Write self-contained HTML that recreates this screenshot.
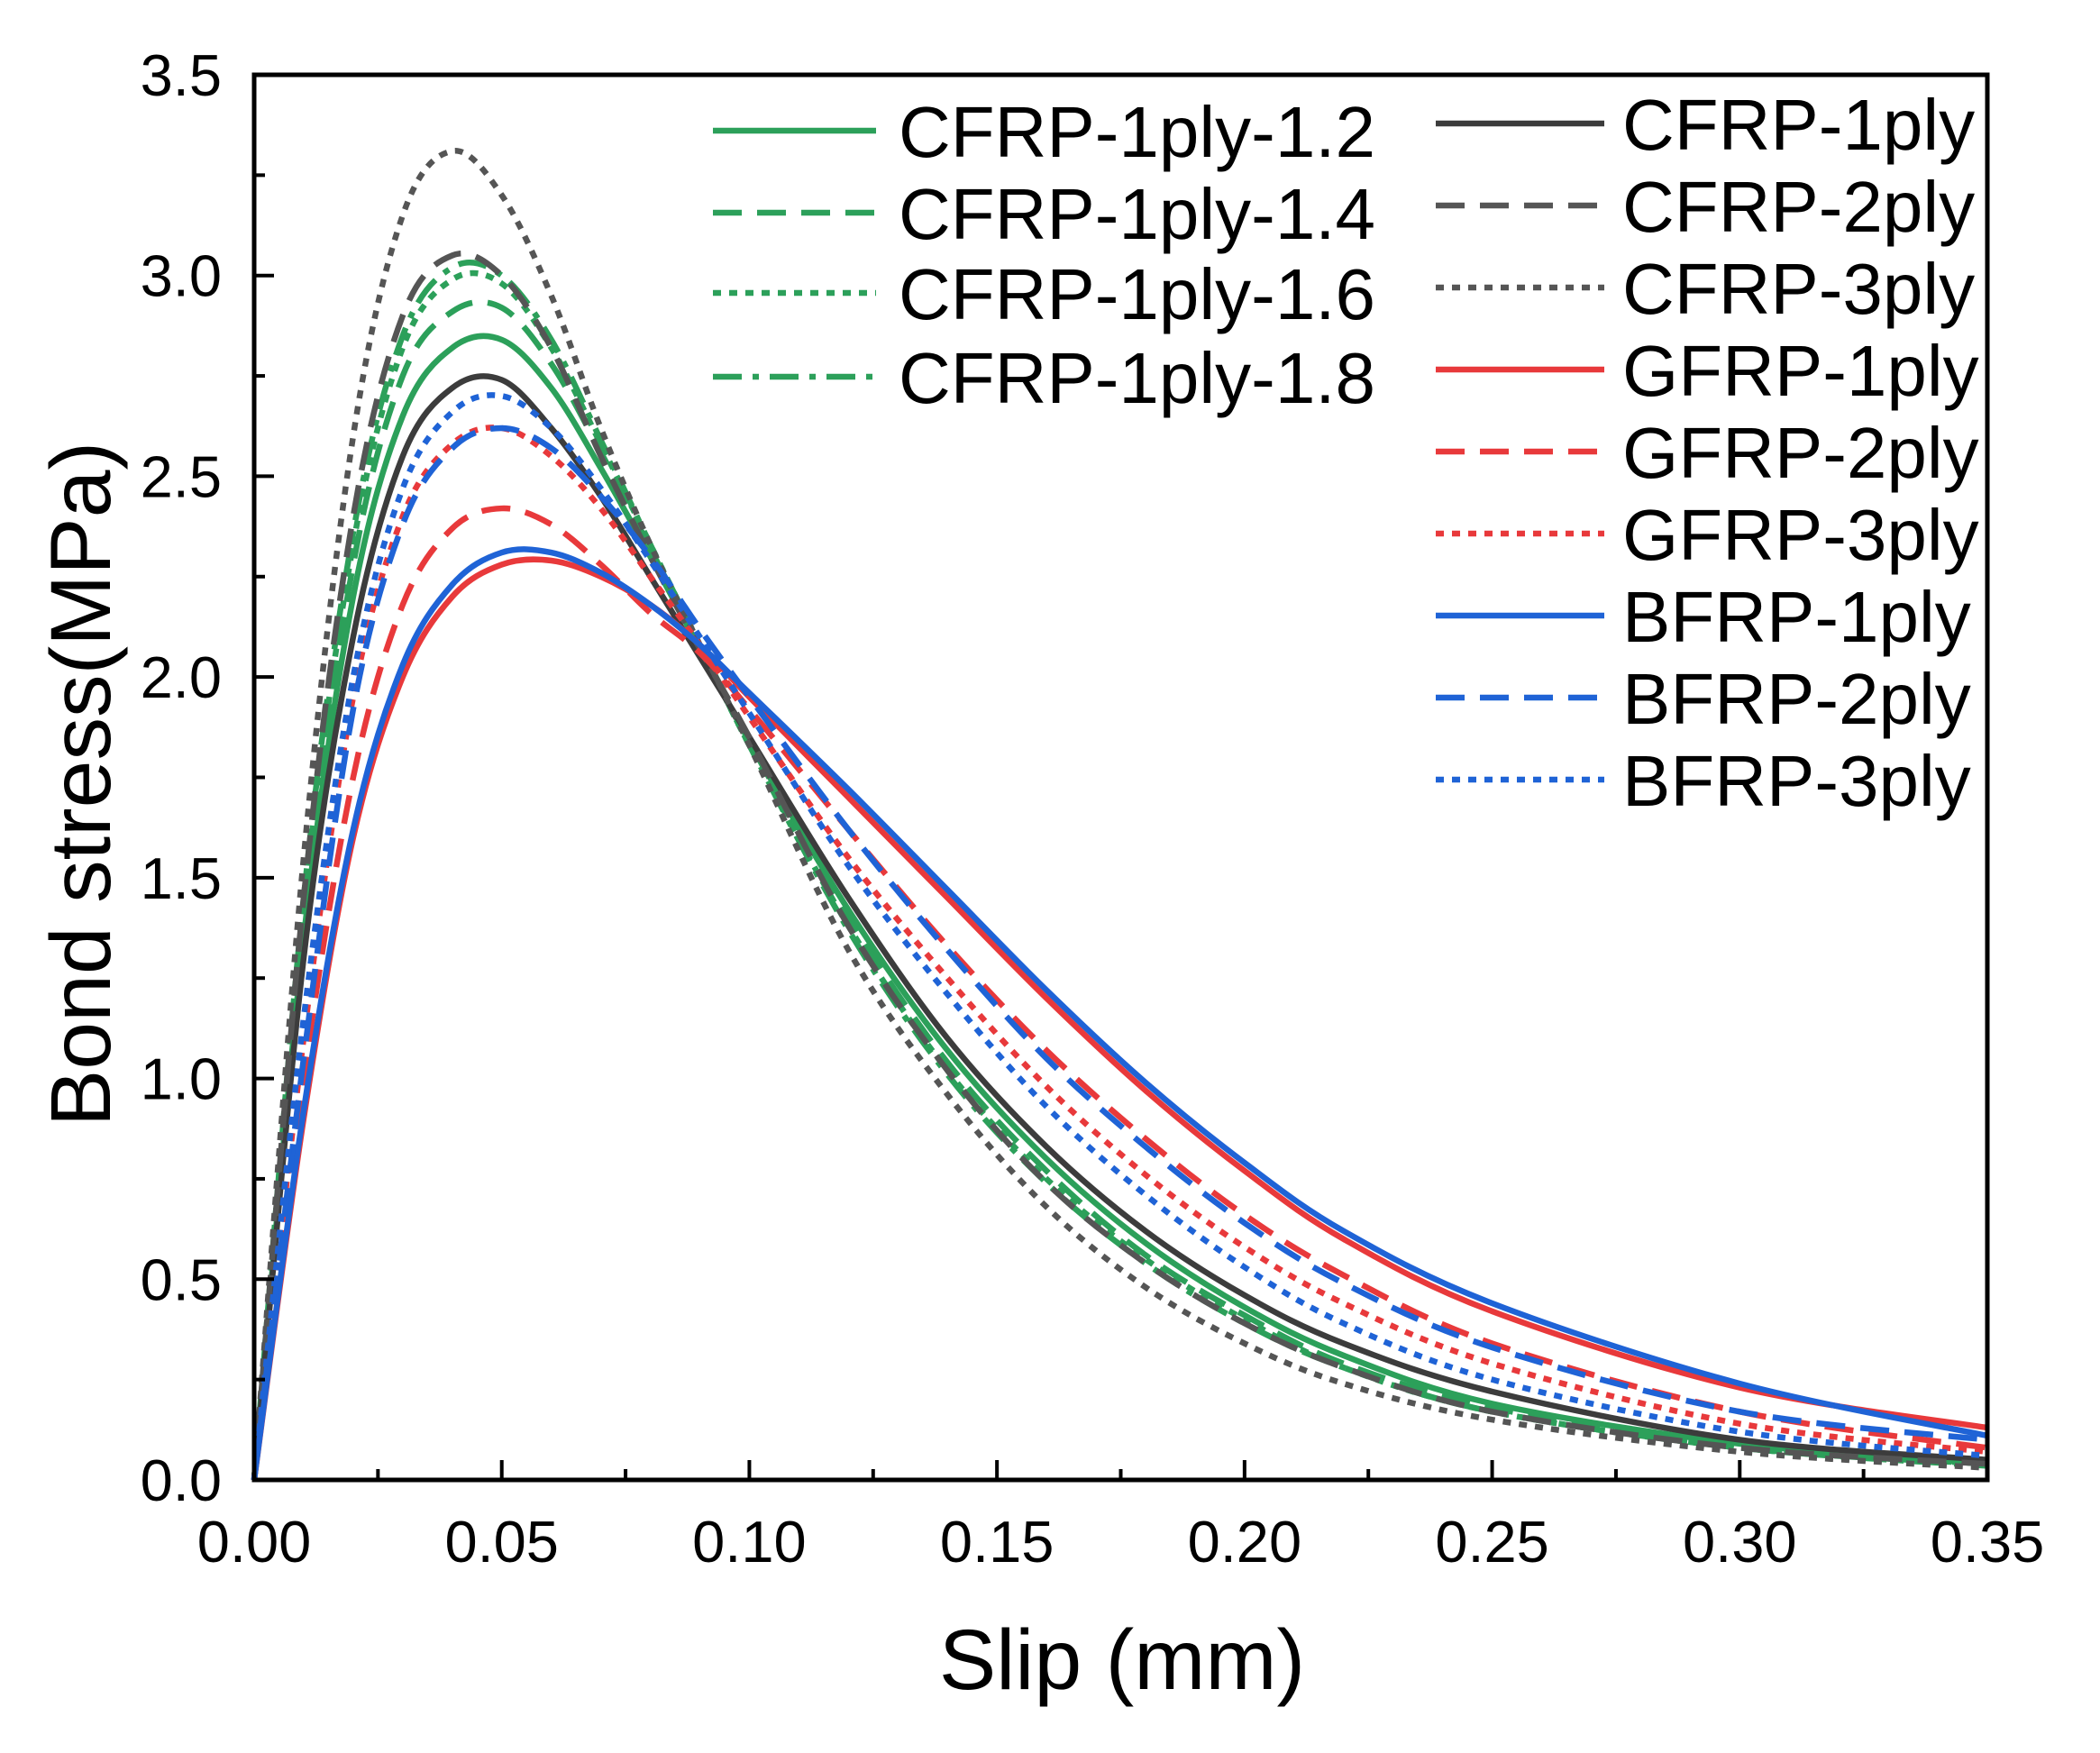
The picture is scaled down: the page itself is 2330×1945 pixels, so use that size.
<!DOCTYPE html>
<html><head><meta charset="utf-8"><style>
html,body{margin:0;padding:0;background:#fff;}
svg{display:block;font-family:"Liberation Sans",Arial,sans-serif;}
</style></head><body>
<svg id="chart" width="2330" height="1945" viewBox="0 0 2330 1945" xmlns="http://www.w3.org/2000/svg">
<g id="series"></g>
<g id="axes"></g>
<g id="legend"></g>
</svg>
<script>
const xs = [0,0.01,0.02,0.03,0.04,0.05,0.06,0.07,0.08,0.09,0.10,0.12,0.14,0.16,0.18,0.20,0.22,0.25,0.30,0.35];
const cfrp1 = [0,1.3,2.1,2.55,2.72,2.74,2.62,2.45,2.25,2.05,1.85,1.45,1.10,0.83,0.62,0.46,0.34,0.22,0.10,0.05];
const cfrp2 = [0,1.45,2.4,2.9,3.05,3.0,2.82,2.55,2.3,2.07,1.85,1.38,1.02,0.74,0.54,0.39,0.28,0.17,0.08,0.04];
const cfrp3 = [0,1.55,2.6,3.15,3.31,3.2,2.95,2.62,2.33,2.08,1.83,1.32,0.96,0.68,0.48,0.34,0.24,0.15,0.07,0.03];
const gfrp1 = [0,0.9,1.6,2.0,2.2,2.28,2.29,2.25,2.18,2.08,1.95,1.70,1.45,1.20,0.97,0.77,0.60,0.42,0.23,0.13];
const gfrp2 = [0,1.0,1.75,2.18,2.37,2.42,2.38,2.28,2.16,2.06,1.92,1.62,1.33,1.07,0.85,0.66,0.51,0.34,0.17,0.08];
const gfrp3 = [0,1.1,1.95,2.4,2.58,2.62,2.55,2.42,2.25,2.08,1.90,1.55,1.25,0.98,0.76,0.58,0.44,0.29,0.14,0.07];
const bfrp1 = [0,0.92,1.62,2.03,2.23,2.31,2.31,2.26,2.18,2.08,1.96,1.72,1.47,1.22,0.99,0.79,0.62,0.44,0.24,0.11];
const bfrp2 = [0,1.05,1.92,2.38,2.57,2.62,2.57,2.45,2.3,2.12,1.95,1.62,1.32,1.05,0.83,0.64,0.49,0.33,0.17,0.10];
const bfrp3 = [0,1.15,2.0,2.47,2.66,2.70,2.62,2.47,2.29,2.1,1.91,1.53,1.21,0.93,0.71,0.53,0.39,0.25,0.12,0.06];
const c12 = [0,1.35,2.2,2.65,2.82,2.84,2.72,2.52,2.3,2.07,1.84,1.42,1.07,0.80,0.59,0.43,0.31,0.19,0.09,0.04];
const c14 = [0,1.4,2.28,2.75,2.91,2.92,2.78,2.56,2.32,2.08,1.84,1.40,1.04,0.77,0.56,0.41,0.29,0.18,0.08,0.04];
const c16 = [0,1.42,2.33,2.82,2.99,2.98,2.82,2.58,2.33,2.08,1.83,1.38,1.02,0.75,0.55,0.40,0.28,0.17,0.08,0.04];
const c18 = [0,1.45,2.36,2.85,3.02,3.0,2.84,2.59,2.33,2.08,1.83,1.37,1.01,0.74,0.54,0.39,0.28,0.17,0.08,0.035];
const xTicks = ["0.00","0.05","0.10","0.15","0.20","0.25","0.30","0.35"];
const yTicks = ["0.0","0.5","1.0","1.5","2.0","2.5","3.0","3.5"];

const X0=282,X1=2205,Y0=1642,Y1=83;
const sx=v=>X0+(v/0.35)*(X1-X0);
const sy=v=>Y0-(v/3.5)*(Y0-Y1);
const NS="http://www.w3.org/2000/svg";
function mk(tag,parent){const e=document.createElementNS(NS,tag);parent.appendChild(e);return e;}

const GREEN="#2ca05a",DGRAY="#3c3c3c",GRAY="#555",RED="#e8393b",BLUE="#1f63d6";
const SOLID="",DASH="32,17",DOT="9,9",DASHDOT="32,12,7,12";
const series=[
 {n:"CFRP-1ply-1.2",d:c12,c:GREEN,s:SOLID},
 {n:"CFRP-1ply-1.4",d:c14,c:GREEN,s:DASH},
 {n:"CFRP-1ply-1.6",d:c16,c:GREEN,s:DOT},
 {n:"CFRP-1ply-1.8",d:c18,c:GREEN,s:DASHDOT},
 {n:"CFRP-1ply",d:cfrp1,c:DGRAY,s:SOLID},
 {n:"CFRP-2ply",d:cfrp2,c:GRAY,s:DASH},
 {n:"CFRP-3ply",d:cfrp3,c:GRAY,s:DOT},
 {n:"GFRP-1ply",d:gfrp1,c:RED,s:SOLID},
 {n:"GFRP-2ply",d:gfrp2,c:RED,s:DASH},
 {n:"GFRP-3ply",d:gfrp3,c:RED,s:DOT},
 {n:"BFRP-1ply",d:bfrp1,c:BLUE,s:SOLID},
 {n:"BFRP-2ply",d:bfrp2,c:BLUE,s:DASH},
 {n:"BFRP-3ply",d:bfrp3,c:BLUE,s:DOT}
];
function pathFor(d){
 const p=xs.map((x,i)=>[sx(x),sy(d[i])]);
 let s="M"+p[0][0]+","+p[0][1];
 for(let i=0;i<p.length-1;i++){
  const p0=p[Math.max(0,i-1)],p1=p[i],p2=p[i+1],p3=p[Math.min(p.length-1,i+2)];
  const c1=[p1[0]+(p2[0]-p0[0])/6,p1[1]+(p2[1]-p0[1])/6];
  const c2=[p2[0]-(p3[0]-p1[0])/6,p2[1]-(p3[1]-p1[1])/6];
  s+=`C${c1[0]},${c1[1]} ${c2[0]},${c2[1]} ${p2[0]},${p2[1]}`;
 }
 return s;
}
const sg=document.getElementById("series");
series.forEach(o=>{
 const p=mk("path",sg);
 
 
 p.setAttribute("d",pathFor(o.d));p.setAttribute("fill","none");
 p.setAttribute("stroke",o.c);p.setAttribute("stroke-width","6.5");
 if(o.s)p.setAttribute("stroke-dasharray",o.s);
});
const ax=document.getElementById("axes");
const fr=mk("rect",ax);


fr.setAttribute("x",X0);fr.setAttribute("y",Y1);fr.setAttribute("width",X1-X0);fr.setAttribute("height",Y0-Y1);
fr.setAttribute("fill","none");fr.setAttribute("stroke","#000");fr.setAttribute("stroke-width","5");
xTicks.forEach((t,i)=>{
 const v=parseFloat(t),x=sx(v);
 const l=mk("line",ax);
 
 
 l.setAttribute("x1",x);l.setAttribute("x2",x);l.setAttribute("y1",Y0);l.setAttribute("y2",Y0-22);l.setAttribute("stroke","#000");l.setAttribute("stroke-width","4");
 if(i<xTicks.length-1){const m=mk("line",ax);
  
  
  const xm=sx(v+0.025);m.setAttribute("x1",xm);m.setAttribute("x2",xm);m.setAttribute("y1",Y0);m.setAttribute("y2",Y0-12);m.setAttribute("stroke","#000");m.setAttribute("stroke-width","4");}
 const tx=mk("text",ax);
 
 
 tx.setAttribute("x",x);tx.setAttribute("y",1733);tx.setAttribute("text-anchor","middle");tx.setAttribute("font-size","65");tx.textContent=t;
});
yTicks.forEach((t,i)=>{
 const v=parseFloat(t),y=sy(v);
 const l=mk("line",ax);
 
 
 l.setAttribute("x1",X0);l.setAttribute("x2",X0+22);l.setAttribute("y1",y);l.setAttribute("y2",y);l.setAttribute("stroke","#000");l.setAttribute("stroke-width","4");
 if(i<yTicks.length-1){const m=mk("line",ax);
  
  
  const ym=sy(v+0.25);m.setAttribute("x1",X0);m.setAttribute("x2",X0+12);m.setAttribute("y1",ym);m.setAttribute("y2",ym);m.setAttribute("stroke","#000");m.setAttribute("stroke-width","4");}
 const tx=mk("text",ax);
 
 
 tx.setAttribute("x",246);tx.setAttribute("y",y+23);tx.setAttribute("text-anchor","end");tx.setAttribute("font-size","65");tx.textContent=t;
});
const xt=mk("text",ax);


xt.setAttribute("x",1245);xt.setAttribute("y",1874);xt.setAttribute("text-anchor","middle");xt.setAttribute("font-size","95");xt.textContent="Slip (mm)";
const yt=mk("text",ax);


yt.setAttribute("transform","translate(122,870) rotate(-90)");yt.setAttribute("text-anchor","middle");yt.setAttribute("font-size","95");yt.textContent="Bond stress(MPa)";

const lg=document.getElementById("legend");
const leftY=[145,236,325,418], rightY=[137,228,319,410,501,592,683,774,865];
series.forEach((o,i)=>{
 const left=i<4; const y=left?leftY[i]:rightY[i-4];
 const lx1=left?791:1593, lx2=left?972:1780, tx=left?997:1800;
 const g=mk("g",lg);
 
 
 const l=mk("line",g);
 
 
 l.setAttribute("x1",lx1);l.setAttribute("x2",lx2);l.setAttribute("y1",y);l.setAttribute("y2",y);
 l.setAttribute("stroke",o.c);l.setAttribute("stroke-width","6.5");if(o.s)l.setAttribute("stroke-dasharray",o.s);
 const t=mk("text",g);
 
 
 t.setAttribute("x",tx);t.setAttribute("y",y+29);t.setAttribute("font-size","80");t.textContent=o.n;
});
</script>
</body></html>
